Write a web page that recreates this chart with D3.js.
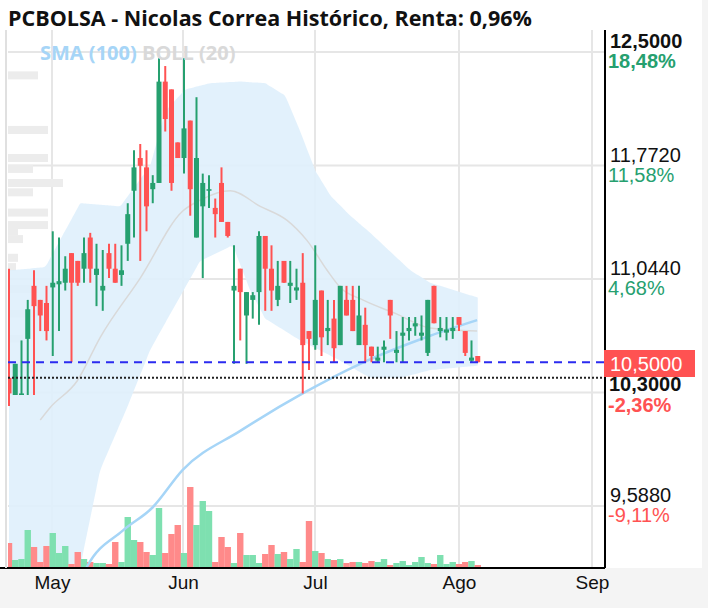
<!DOCTYPE html>
<html>
<head>
<meta charset="utf-8">
<script src="https://d3js.org/d3.v7.min.js"></script>
<style>
body { margin: 0; background: #f4f4f4; font-family: "Open Sans", "Liberation Sans", sans-serif; }
</style>
</head>
<body>
<script>
// OHLC data (one candle per trading day):
var opens  = [10.41,10.30,10.30,10.66,11.00,10.91,10.89,10.99,11.01,11.02,11.21,11.16,11.11,11.31,11.07,10.97,11.21,11.11,11.07,11.27,
              11.61,11.82,11.76,11.62,11.66,12.31,12.26,11.92,11.82,12.06,11.31,11.51,11.61,11.50,11.66,11.41,10.97,11.11,10.81,10.91,
              10.96,11.32,11.11,10.91,11.16,11.00,10.97,11.02,10.71,10.62,10.97,10.71,10.79,10.62,10.91,10.91,10.62,10.75,10.61,10.52,
              10.59,10.91,10.57,10.68,10.71,10.74,10.68,10.57,11.00,10.71,10.70,10.71,10.80,10.71,10.52,10.55];
var closes = [10.31,10.50,10.31,10.85,10.87,10.81,10.71,11.02,11.03,11.11,11.02,11.02,11.21,11.11,11.11,11.00,11.11,11.02,11.10,11.46,
              11.76,11.77,11.51,11.66,12.31,12.07,11.66,11.82,12.01,11.62,11.82,11.66,11.62,11.46,11.41,11.32,11.00,10.96,10.96,10.94,
              11.32,11.11,10.97,11.00,11.02,11.02,10.99,10.62,10.66,10.91,10.67,10.73,10.60,11.00,10.81,10.71,10.81,10.62,10.55,10.54,
              10.61,10.81,10.59,10.70,10.73,10.76,10.70,10.91,10.76,10.73,10.72,10.73,10.75,10.57,10.54,10.51];
var highs  = [11.11,10.50,10.65,10.91,11.10,10.91,11.00,11.35,11.31,11.19,11.21,11.16,11.31,11.34,11.27,11.23,11.27,11.27,11.26,11.53,
              11.87,11.91,11.87,11.71,12.46,12.41,12.26,11.92,12.46,12.06,12.21,11.72,11.71,11.56,11.76,11.41,11.26,11.11,10.96,10.96,
              11.35,11.32,11.26,11.16,11.16,11.16,11.11,11.21,10.71,11.26,10.97,10.91,10.91,11.00,11.00,11.00,11.00,10.86,10.61,10.61,
              10.65,10.91,10.71,10.80,10.80,10.80,10.81,10.91,11.00,10.80,10.80,10.80,10.80,10.71,10.65,10.55];
var lows   = [10.23,10.30,10.30,10.30,10.30,10.71,10.65,10.55,10.71,10.97,10.51,11.00,11.02,11.02,10.87,10.84,11.05,11.02,11.00,11.16,
              11.31,11.16,11.35,11.53,11.66,11.99,11.61,11.82,11.72,11.45,11.31,11.05,11.50,11.31,11.41,11.31,10.50,10.65,10.50,10.79,
              10.75,10.84,10.84,10.87,11.02,10.89,10.91,10.31,10.46,10.59,10.55,10.62,10.51,10.62,10.81,10.71,10.62,10.51,10.51,10.51,
              10.51,10.66,10.51,10.51,10.65,10.68,10.65,10.55,10.76,10.67,10.65,10.66,10.71,10.55,10.51,10.51];
var volumes = [24,7,8,37,20,5,21,34,14,21,3,15,8,5,4,4,3,25,5,50,
               27,25,15,12,59,14,33,42,14,80,42,66,56,5,30,20,4,34,12,12,
               4,13,22,13,15,8,18,5,46,16,14,8,7,8,4,5,5,4,6,5,
               8,2,4,6,2,5,10,4,3,12,3,5,3,5,6,2];

// Bollinger (20) upper / middle / lower and SMA (100), as [candle index, price]
var bollUpper = [[0,11.10],[5.8,11.12],[11.4,11.53],[17.8,11.51],[22.6,11.77],[25,12.12],[28.2,12.26],[32.2,12.30],[37,12.31],
                 [41,12.30],[44.2,12.22],[46.6,11.99],[49,11.74],[51.4,11.58],[54.6,11.45],[57.8,11.34],[61.8,11.19],[64.2,11.10],
                 [67.4,11.02],[70.6,10.98],[75.4,10.92]];
var bollLower = [[0,8.60],[5.8,8.67],[11.4,9.20],[14.6,9.82],[18.9,10.22],[22.6,10.59],[25.8,10.82],[30.6,11.16],[35.8,11.26],
                 [38.6,10.97],[41,10.79],[46.6,10.65],[53,10.52],[57.8,10.41],[62.6,10.41],[67.4,10.46],[75.4,10.49]];
var bollMid   = [[5,10.14],[6.6,10.22],[10.9,10.39],[14.6,10.67],[21,11.05],[27.8,11.48],[30.6,11.55],[35.4,11.61],[40.2,11.51],
                 [44.5,11.42],[47.7,11.29],[50.9,11.10],[53,10.99],[56.6,10.91],[62,10.82],[67.4,10.73],[74.9,10.71]];
var sma100    = [[11.4,9.11],[12.5,9.20],[18.2,9.43],[23,9.58],[27.8,9.82],[37,10.07],[47,10.31],[56.2,10.50],[67.4,10.68],[74.9,10.78]];

// volume-by-price profile (left side)
var profilePrice = [12.35,12.0,11.82,11.75,11.66,11.6,11.47,11.39,11.35,11.3,11.18,11.12,10.98,10.82,10.66,10.47];
var profileVol   = [30,40,40,25,55,25,40,40,10,15,10,8,30,30,15,35];

var yTicks = [12.5, 11.772, 11.044, 10.316, 9.588];
var yTickLabels = ["12,5000","11,7720","11,0440","","9,5880"];
var pctLabels = ["18,48%","11,58%","4,68%","","-9,11%"];
var monthPos = [6.88, 27.84, 48.96, 72, 93.28];
var monthLabels = ["May","Jun","Jul","Ago","Sep"];
var lastPrice = 10.51, refPrice = 10.41;

var W = 708, H = 608;
var pLeft = 8, pRight = 605, pTop = 30, pBottom = 568;
var green = "#26a06f", red = "#ff5252";

var svg = d3.select("body").append("svg").attr("width", W).attr("height", H);
svg.append("rect").attr("x", 0).attr("y", 0).attr("width", 702).attr("height", pBottom).attr("fill", "#fff");

var x = d3.scaleLinear().domain([0, 75]).range([9, 477.75]);
var y = d3.scaleLinear().domain([12.5, 9.588]).range([52, 506]);
var yVol = d3.scaleLinear().domain([0, 82]).range([pBottom - 1, pBottom - 83]);

svg.append("defs").append("clipPath").attr("id", "plot")
   .append("rect").attr("x", pLeft).attr("y", pTop).attr("width", pRight - pLeft).attr("height", pBottom - pTop);
var g = svg.append("g").attr("clip-path", "url(#plot)");

// grid
g.selectAll("line.hg").data(yTicks).enter().append("line")
  .attr("x1", pLeft).attr("x2", pRight).attr("y1", d => y(d)).attr("y2", d => y(d))
  .attr("stroke", "#e6e6e6").attr("stroke-width", 2);
g.selectAll("line.vg").data(monthPos).enter().append("line")
  .attr("y1", pTop).attr("y2", pBottom).attr("x1", d => x(d)).attr("x2", d => x(d))
  .attr("stroke", "#e6e6e6").attr("stroke-width", 2);

// volume profile
var xProf = d3.scaleLinear().domain([0, 60]).range([pLeft, pLeft + 60]);
g.selectAll("rect.prof").data(profilePrice).enter().append("rect")
  .attr("x", pLeft).attr("y", d => y(d) - 4).attr("height", 8)
  .attr("width", (d, i) => xProf(profileVol[i]) - pLeft)
  .attr("fill", "#ececec");

// bollinger band
var area = d3.area().x(d => x(d[0])).y0(d => y(d[1])).y1(d => y(d[2])).curve(d3.curveMonotoneX);
var up = d3.scaleLinear().domain(bollUpper.map(d => d[0])).range(bollUpper.map(d => d[1]));
var lo = d3.scaleLinear().domain(bollLower.map(d => d[0])).range(bollLower.map(d => d[1]));
var idx = d3.range(0, 75.5, 0.5);
g.append("path").datum(idx.map(i => [i, lo(i), up(i)])).attr("d", area).attr("fill", "#dff0fc").attr("opacity", 0.9);
var line = d3.line().x(d => x(d[0])).y(d => y(d[1])).curve(d3.curveMonotoneX);
g.append("path").datum(bollMid).attr("d", line).attr("fill", "none").attr("stroke", "#d9d9d9").attr("stroke-width", 1.5);

// volume bars
g.selectAll("rect.vol").data(volumes).enter().append("rect")
  .attr("x", (d, i) => x(i) - 3.2).attr("width", 6.4)
  .attr("y", d => yVol(d)).attr("height", d => yVol(0) - yVol(d))
  .attr("fill", (d, i) => closes[i] >= opens[i] ? "#7ee0b0" : "#ff8a8a");

g.append("path").datum(sma100).attr("d", line).attr("fill", "none").attr("stroke", "#a6d5f7").attr("stroke-width", 2.5);

// candles
var cand = g.selectAll("g.c").data(opens).enter().append("g");
cand.append("line").attr("x1", (d, i) => x(i)).attr("x2", (d, i) => x(i))
  .attr("y1", (d, i) => y(highs[i])).attr("y2", (d, i) => y(lows[i]))
  .attr("stroke", (d, i) => closes[i] >= opens[i] ? green : red).attr("stroke-width", 2);
cand.append("rect").attr("x", (d, i) => x(i) - 2.5).attr("width", 5)
  .attr("y", (d, i) => y(Math.max(opens[i], closes[i])))
  .attr("height", (d, i) => Math.max(1.5, Math.abs(y(opens[i]) - y(closes[i]))))
  .attr("fill", (d, i) => closes[i] >= opens[i] ? green : red);

// price lines
g.append("line").attr("x1", pLeft).attr("x2", pRight).attr("y1", y(lastPrice)).attr("y2", y(lastPrice))
  .attr("stroke", "#2b2bf0").attr("stroke-width", 2).attr("stroke-dasharray", "8,6");
g.append("line").attr("x1", pLeft).attr("x2", pRight).attr("y1", y(refPrice)).attr("y2", y(refPrice))
  .attr("stroke", "#222").attr("stroke-width", 2).attr("stroke-dasharray", "2,2");

// axes frame
svg.append("line").attr("x1", pRight).attr("x2", pRight).attr("y1", pTop).attr("y2", pBottom).attr("stroke", "#000").attr("stroke-width", 2);
svg.append("line").attr("x1", 0).attr("x2", pRight).attr("y1", pBottom).attr("y2", pBottom).attr("stroke", "#000").attr("stroke-width", 2);
svg.append("line").attr("x1", 6).attr("x2", 6).attr("y1", pTop).attr("y2", pBottom).attr("stroke", "#e0e0e0").attr("stroke-width", 2);

var fam = "'Liberation Sans', Arial, sans-serif";
var xAxis = d3.axisBottom(x).tickValues(monthPos).tickFormat((d, i) => monthLabels[i]).tickSize(0).tickPadding(8);
var gx = svg.append("g").attr("transform", "translate(0," + pBottom + ")").call(xAxis);
gx.select(".domain").remove();
gx.selectAll("text").attr("font-size", 19).attr("fill", "#111").attr("font-family", fam);

// right axis labels
var ly = svg.append("g");
ly.selectAll("text.t").data(yTicks).enter().append("text")
  .attr("x", 610).attr("y", d => y(d) - 4).text((d, i) => yTickLabels[i])
  .attr("font-family", fam).attr("font-size", 20).attr("fill", "#111")
  .attr("font-weight", (d, i) => i === 0 ? "bold" : "normal");
ly.selectAll("text.p").data(yTicks).enter().append("text")
  .attr("x", 608).attr("y", d => y(d) + 16).text((d, i) => pctLabels[i])
  .attr("font-family", fam).attr("font-size", 20)
  .attr("fill", (d, i) => d > lastPrice ? green : red)
  .attr("font-weight", (d, i) => i === 0 ? "bold" : "normal");
ly.append("text").attr("x", 609).attr("y", 391).text("10,3000")
  .attr("font-family", fam).attr("font-size", 20).attr("font-weight", "bold").attr("fill", "#111");
ly.append("text").attr("x", 608).attr("y", 412).text("-2,36%")
  .attr("font-family", fam).attr("font-size", 20).attr("font-weight", "bold").attr("fill", red);
ly.append("rect").attr("x", 604).attr("y", 350).attr("width", 91).attr("height", 27).attr("fill", red);
ly.append("text").attr("x", 610).attr("y", 371).text("10,5000")
  .attr("font-family", fam).attr("font-size", 20).attr("fill", "#fff");

// title and legend
svg.append("text").attr("x", 8).attr("y", 26).text("PCBOLSA - Nicolas Correa Histórico, Renta: 0,96%")
  .attr("font-family", "'Open Sans', sans-serif").attr("font-weight", "bold").attr("font-size", 21.5).attr("fill", "#111");
var leg = svg.append("text").attr("x", 40).attr("y", 60).attr("font-family", "'Open Sans', sans-serif")
  .attr("font-weight", "bold").attr("font-size", 20);
leg.append("tspan").text("SMA (100) ").attr("fill", "#a6d5f7");
leg.append("tspan").text("BOLL (20)").attr("fill", "#d9d9d9");
</script>
</body>
</html>
